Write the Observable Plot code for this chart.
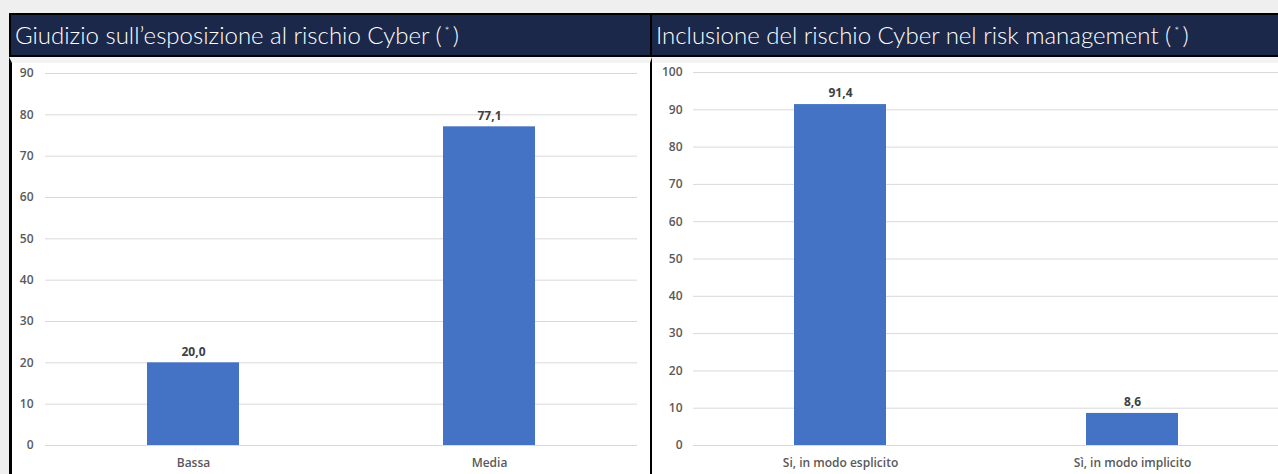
<!DOCTYPE html>
<html><head><meta charset="utf-8">
<script src="https://cdn.jsdelivr.net/npm/d3@7"></script>
<script src="https://cdn.jsdelivr.net/npm/@observablehq/plot@0.6"></script>
<style>
html,body{margin:0;padding:0}
body{background:#efefef;width:1278px;height:474px;overflow:hidden;position:relative;font-family:Lato,sans-serif}
.hdr{position:absolute;top:13px;height:44px;box-sizing:border-box;background:#1b284a;border-top:2px solid #000;border-bottom:2px solid #000;color:#fff;font-size:24px;font-weight:300;line-height:40px;padding-left:4px;white-space:nowrap;overflow:hidden}
.hdr .ast{font-size:12px;position:relative;top:-9px;padding:0 3px}
.panel{position:absolute;top:57px;height:417px;box-sizing:border-box;background:#fff;border-top:6px solid #f3f3f3}
.chart{position:absolute;top:63px}
</style></head><body>
<div class="hdr" id="h1" style="left:9px;width:642px;border-left:2px solid #000;border-right:1px solid #000"></div>
<div class="hdr" id="h2" style="left:651px;width:627px;border-left:1px solid #000"></div>
<div class="panel" style="left:9px;width:643px;border-left:3px solid #000;border-right:2px solid #000"></div>
<div class="panel" style="left:652px;width:626px"></div>
<div class="chart" id="c1" style="left:12px"></div>
<div class="chart" id="c2" style="left:652px"></div>
<script>
const leftTitle = "Giudizio sull’esposizione al rischio Cyber";
const rightTitle = "Inclusione del rischio Cyber nel risk management";
const leftCategories = ["Bassa", "Media"];
const leftValues = [20.0, 77.1];
const leftTicks = [0, 10, 20, 30, 40, 50, 60, 70, 80, 90];
const rightCategories = ["Si, in modo esplicito", "Sì, in modo implicito"];
const rightValues = [91.4, 8.6];
const rightTicks = [0, 10, 20, 30, 40, 50, 60, 70, 80, 90, 100];

function setTitle(id, t) {
  const el = document.getElementById(id);
  el.textContent = t + " (";
  const s = document.createElement("span"); s.className = "ast"; s.textContent = "*";
  el.appendChild(s);
  el.appendChild(document.createTextNode(")"));
}
setTitle("h1", leftTitle);
setTitle("h2", rightTitle);

const fmt = v => v.toFixed(1).replace(".", ",");

function chart(cats, vals, ticks, opts) {
  const data = cats.map((c, i) => ({cat: c, value: vals[i]}));
  return Plot.plot({
    width: opts.width, height: 411,
    marginLeft: opts.ml, marginRight: opts.mr, marginTop: opts.mt, marginBottom: 29,
    x: {domain: cats, paddingInner: opts.pad, paddingOuter: opts.pad / 2, label: null},
    y: {domain: [0, ticks[ticks.length - 1]], label: null},
    style: {fontFamily: "'Open Sans', sans-serif", fontSize: "12px", color: "#595959", background: "transparent", overflow: "visible"},
    marks: [
      Plot.gridY(ticks, {stroke: "#d9d9d9", strokeOpacity: 1, strokeWidth: 1}),
      Plot.barY(data, {x: "cat", y: "value", fill: "#4472c4"}),
      Plot.text(data, {x: "cat", y: "value", text: d => fmt(d.value), dy: -11, fontWeight: 700, fill: "#404040", fontSize: 12}),
      Plot.axisX({tickSize: 0, tickPadding: 13, fontWeight: 600, label: null, fontSize: 12}),
      Plot.axisY(ticks, {tickSize: 0, tickPadding: opts.tp, fontWeight: 600, label: null, fontSize: 12})
    ]
  });
}
document.getElementById("c1").appendChild(chart(leftCategories, leftValues, leftTicks, {width: 638, ml: 33, mr: 13, mt: 10, pad: 0.689, tp: 12}));
document.getElementById("c2").appendChild(chart(rightCategories, rightValues, rightTicks, {width: 626, ml: 41, mr: 0, mt: 9, pad: 0.6855, tp: 11}));
</script>
</body></html>
